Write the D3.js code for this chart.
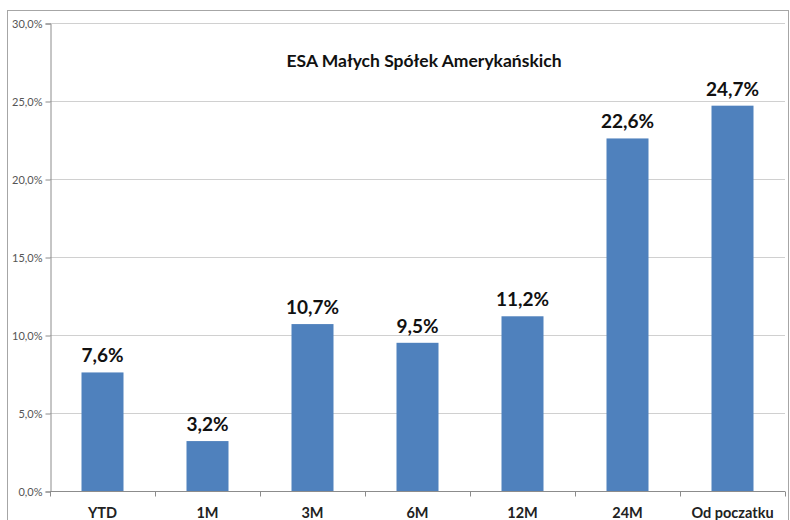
<!DOCTYPE html>
<html>
<head>
<meta charset="utf-8">
<script src="https://cdn.jsdelivr.net/npm/d3@7"></script>
<style>
  body { margin: 0; background: #fff; }
  text { font-family: Lato, "Open Sans", sans-serif; }
</style>
</head>
<body>
<script>
const categories = ["YTD", "1M", "3M", "6M", "12M", "24M", "Od poczatku"];
const values = [7.6, 3.2, 10.7, 9.5, 11.2, 22.6, 24.7];
const yTicks = [0, 5, 10, 15, 20, 25, 30];
const title = "ESA Małych Spółek Amerykańskich";

const w = 790, h = 520;
const plotLeft = 50, plotRight = 785, plotTop = 23, plotBottom = 491;

const svg = d3.select("body").append("svg")
  .attr("width", w).attr("height", h);

// outer border
svg.append("rect")
  .attr("x", 7.5).attr("y", 10.5)
  .attr("width", w - 9).attr("height", h - 8)
  .attr("fill", "none").attr("stroke", "#a6a6a6");

const x = d3.scaleBand().domain(categories).range([plotLeft, plotRight]).paddingInner(0.6).paddingOuter(0.3);
const xb = d3.scaleBand().domain(categories).range([plotLeft, plotRight]);
const y = d3.scaleLinear().domain([0, 30]).range([plotBottom, plotTop]);

const fmt = (d) => d.toFixed(1).replace(".", ",") + "%";

// gridlines
svg.append("g").selectAll("line")
  .data(yTicks.filter((d) => d > 0))
  .enter().append("line")
  .attr("x1", plotLeft).attr("x2", plotRight)
  .attr("y1", (d) => Math.round(y(d)) + 0.5)
  .attr("y2", (d) => Math.round(y(d)) + 0.5)
  .attr("stroke", "#d0d0d0");

// y axis
const yAxis = d3.axisLeft(y).tickValues(yTicks).tickSize(5).tickPadding(3).tickFormat(fmt);
const gy = svg.append("g").attr("transform", "translate(" + (plotLeft + 0.5) + ",0.5)").call(yAxis);
gy.select(".domain").attr("stroke", "#8c8c8c");
gy.selectAll(".tick line").attr("stroke", "#8c8c8c");
gy.selectAll(".tick text").attr("fill", "#555").style("font-size", "11px")
  .style("font-family", "Lato, 'Open Sans', sans-serif");

// bars
svg.selectAll("rect.bar")
  .data(values)
  .enter().append("rect")
  .attr("class", "bar")
  .attr("x", (d, i) => x(categories[i]))
  .attr("width", x.bandwidth())
  .attr("y", (d) => y(d))
  .attr("height", (d) => y(0) - y(d))
  .attr("fill", "#4f81bd");

// x axis
const gx = svg.append("g").attr("transform", "translate(0," + (plotBottom + 0.5) + ")");
gx.append("line").attr("x1", plotLeft).attr("x2", plotRight).attr("stroke", "#8c8c8c");
gx.selectAll("line.tk")
  .data(categories.concat(["end"]))
  .enter().append("line")
  .attr("class", "tk")
  .attr("x1", (d, i) => Math.round(plotLeft + i * xb.bandwidth()) + 0.5)
  .attr("x2", (d, i) => Math.round(plotLeft + i * xb.bandwidth()) + 0.5)
  .attr("y1", 0).attr("y2", 5)
  .attr("stroke", "#8c8c8c");
gx.selectAll("text")
  .data(categories)
  .enter().append("text")
  .attr("x", (d) => xb(d) + xb.bandwidth() / 2)
  .attr("y", 26)
  .attr("text-anchor", "middle")
  .attr("font-weight", "bold")
  .attr("font-size", "14.5px")
  .attr("fill", "#222")
  .text((d) => d);

// value labels
svg.selectAll("text.val")
  .data(values)
  .enter().append("text")
  .attr("class", "val")
  .attr("x", (d, i) => x(categories[i]) + x.bandwidth() / 2)
  .attr("y", (d) => y(d) - 10)
  .attr("text-anchor", "middle")
  .attr("font-weight", "bold")
  .attr("font-size", "19px")
  .attr("fill", "#111")
  .text(fmt);

// title
svg.append("text")
  .attr("x", 424).attr("y", 67)
  .attr("text-anchor", "middle")
  .attr("font-weight", "bold")
  .attr("font-size", "17.5px")
  .attr("fill", "#111")
  .text(title);
</script>
</body>
</html>
